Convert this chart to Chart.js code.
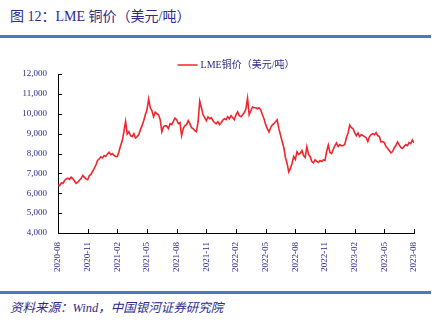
<!DOCTYPE html>
<html>
<head>
<meta charset="utf-8">
<script src="https://cdn.jsdelivr.net/npm/chart.js@4"></script>
<style>
  body { margin: 0; background: #fff; }
  #wrap { position: relative; width: 438px; height: 324px; overflow: hidden; }
  #title { position: absolute; left: 10px; top: 5px; font: 14px 'Liberation Serif', 'Noto Sans CJK SC'; color: #2b2b8a; white-space: nowrap; }
  .rule { position: absolute; left: 0; width: 431px; height: 2.5px; background: #4a78c6; }
  #source { position: absolute; left: 10px; top: 297px; font: italic 12.5px 'Liberation Serif', 'Noto Sans CJK SC'; color: #2b2b8a; white-space: nowrap; }
  #box { position: absolute; left: 0; top: 40px; width: 438px; height: 250px; }
</style>
</head>
<body>
<div id="wrap">
  <div id="title">图 12：LME 铜价（美元/吨）</div>
  <div class="rule" style="top:35px"></div>
  <div id="box"><canvas id="copperChart"></canvas></div>
  <div class="rule" style="top:291px"></div>
  <div id="source">资料来源：Wind，中国银河证券研究院</div>
</div>
<script>
const seriesName = 'LME铜价（美元/吨）';
const months = [
  '2020-08', '2020-09', '2020-10', '2020-11', '2020-12', '2021-01', '2021-02', '2021-03',
  '2021-04', '2021-05', '2021-06', '2021-07', '2021-08', '2021-09', '2021-10', '2021-11',
  '2021-12', '2022-01', '2022-02', '2022-03', '2022-04', '2022-05', '2022-06', '2022-07',
  '2022-08', '2022-09', '2022-10', '2022-11', '2022-12', '2023-01', '2023-02', '2023-03',
  '2023-04', '2023-05', '2023-06', '2023-07', '2023-08'
];
// price readings within each month, in order
const prices = [
  [6420, 6380, 6520, 6490, 6640, 6720],
  [6760, 6700, 6810, 6740, 6620, 6500],
  [6560, 6650, 6740, 6900, 6800, 6720],
  [6680, 6880, 6950, 7100, 7250, 7420],
  [7650, 7720, 7830, 7780, 7900, 7850],
  [7980, 8060, 7940, 8000, 7900, 7850],
  [7850, 8100, 8400, 8650, 9100, 9620],
  [8980, 9100, 8900, 8850, 9000, 8780],
  [8850, 8950, 9200, 9400, 9650, 9950],
  [10200, 10740, 10300, 10150, 9850, 10080],
  [10000, 9950, 9700, 9100, 9350, 9400],
  [9380, 9250, 9500, 9450, 9620, 9780],
  [9700, 9500, 9550, 8900, 9250, 9400],
  [9450, 9650, 9500, 9300, 9250, 9150],
  [9100, 9600, 10640, 10300, 9950, 9800],
  [9650, 9840, 9750, 9800, 9650, 9550],
  [9500, 9600, 9450, 9550, 9680, 9750],
  [9700, 9850, 9750, 9900, 9800, 9700],
  [9950, 10100, 9900, 9850, 9950, 10050],
  [10250, 10790, 9950, 10150, 10340, 10300],
  [10300, 10250, 10300, 10200, 9950, 9750],
  [9450, 9250, 9080, 9300, 9430, 9500],
  [9600, 9700, 9250, 8930, 8600, 8300],
  [7800, 7500, 7070, 7250, 7500, 7850],
  [7700, 8080, 7950, 8000, 8150, 7900],
  [7800, 8330, 7950, 7850, 7600, 7530],
  [7680, 7600, 7550, 7650, 7600, 7680],
  [7650, 8100, 8430, 8050, 8000, 8200],
  [8400, 8530, 8350, 8450, 8380, 8400],
  [8450, 8800, 9030, 9430, 9300, 9250],
  [9050, 8900, 9030, 8850, 8950, 8900],
  [8850, 8780, 8600, 8850, 8950, 9000],
  [8950, 9050, 8900, 8850, 8580, 8600],
  [8550, 8350, 8250, 8150, 8030, 8100],
  [8280, 8400, 8580, 8450, 8300, 8250],
  [8350, 8450, 8400, 8550, 8500, 8680],
  [8530]
];
const yMin = 4000;
const yMax = 12000;
const yStep = 1000;
const tickMonthStep = 3;

const points = prices.flatMap((vals, i) =>
  vals.map((v, j) => ({ x: i + j / vals.length, y: v })));

const navy = '#2b2b8a';
const red = '#f2242c';
const labelFont = { family: "'Liberation Serif', 'Noto Sans CJK SC'", size: 9 };

// small tick marks drawn inside the plot, plus the legend entry
const insideTicks = {
  id: 'insideTicks',
  afterDraw(chart) {
    const { ctx, chartArea: a, scales: { x, y } } = chart;
    ctx.save();
    ctx.strokeStyle = '#000';
    ctx.lineWidth = 1;
    ctx.beginPath();
    x.ticks.forEach(t => {
      const px = Math.round(x.getPixelForValue(t.value)) + 0.5;
      ctx.moveTo(px, a.bottom);
      ctx.lineTo(px, a.bottom - 4);
    });
    y.ticks.forEach(t => {
      const py = Math.round(y.getPixelForValue(t.value)) + 0.5;
      ctx.moveTo(a.left, py);
      ctx.lineTo(a.left + 4, py);
    });
    ctx.stroke();

    ctx.font = "10px 'Liberation Serif', 'Noto Sans CJK SC'";
    const tw = ctx.measureText(seriesName).width;
    const total = 20 + 3 + tw;
    const sx = (a.left + a.right) / 2 - total / 2;
    const ly = 25;
    ctx.strokeStyle = red;
    ctx.lineWidth = 1.5;
    ctx.beginPath();
    ctx.moveTo(sx, ly);
    ctx.lineTo(sx + 20, ly);
    ctx.stroke();
    ctx.fillStyle = navy;
    ctx.textBaseline = 'middle';
    ctx.fillText(seriesName, sx + 23, ly);
    ctx.restore();
  }
};

const ctx = document.getElementById('copperChart').getContext('2d');
const copperChart = new Chart(ctx, {
  type: 'line',
  data: {
    datasets: [{
      label: seriesName,
      data: points,
      borderColor: red,
      borderWidth: 1.6,
      pointRadius: 0,
      tension: 0,
      fill: false
    }]
  },
  options: {
    responsive: true,
    maintainAspectRatio: false,
    animation: false,
    layout: { padding: { top: 34, right: 24, left: 0, bottom: 0 } },
    plugins: {
      legend: { display: false },
      tooltip: { enabled: false }
    },
    scales: {
      x: {
        type: 'linear',
        min: 0,
        max: months.length - 1,
        grid: { display: false, drawTicks: false },
        border: { color: '#000', width: 1 },
        afterFit: s => { s.height = 57; },
        ticks: {
          stepSize: tickMonthStep,
          autoSkip: false,
          maxRotation: 90,
          minRotation: 90,
          padding: 9,
          color: navy,
          font: labelFont,
          callback: v => months[v]
        }
      },
      y: {
        min: yMin,
        max: yMax,
        grid: { display: false, drawTicks: false },
        border: { color: '#000', width: 1 },
        afterFit: s => { s.width = 58; },
        ticks: {
          stepSize: yStep,
          padding: 11,
          color: navy,
          font: labelFont,
          callback: v => v.toLocaleString('en-US')
        }
      }
    }
  },
  plugins: [insideTicks]
});
</script>
</body>
</html>
